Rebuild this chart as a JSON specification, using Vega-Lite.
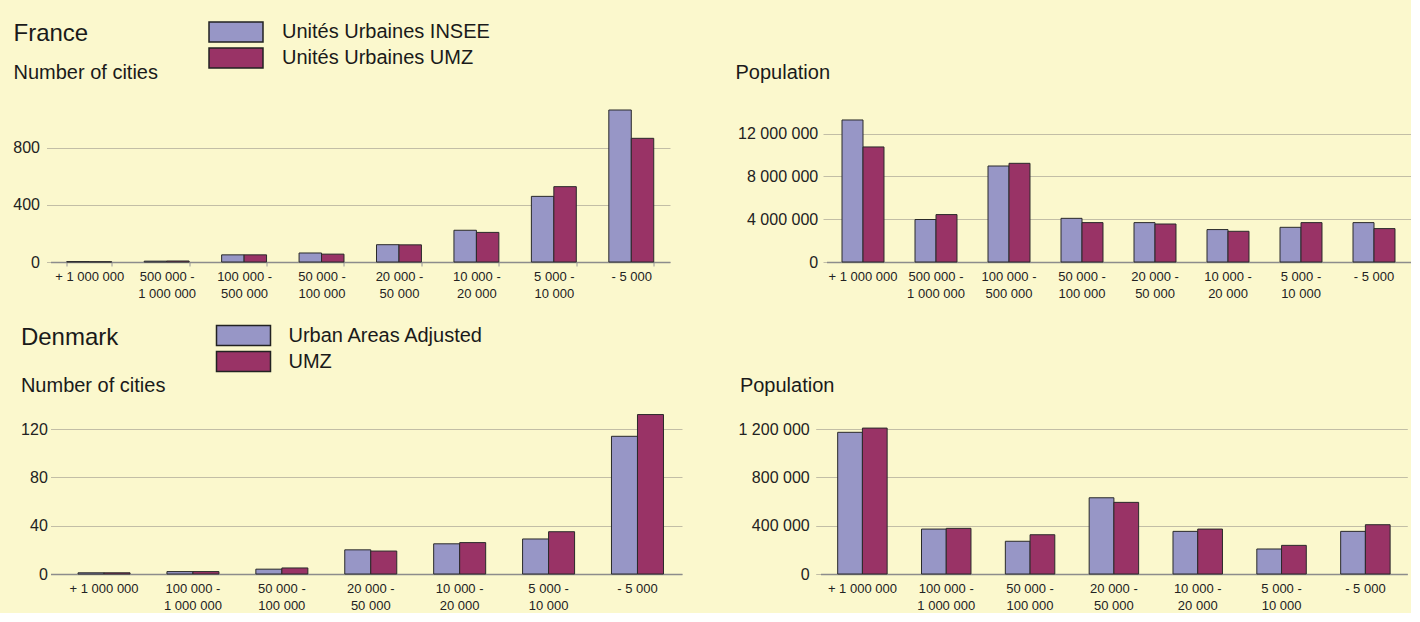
{
  "$schema": "https://vega.github.io/schema/vega-lite/v6.json",
  "background": "#FBF8CD",
  "padding": {"left": 11.5, "top": 21, "right": 0, "bottom": 0},
  "config": {
    "view": {"stroke": null},
    "font": "Liberation Sans",
    "axis": {"labelFont": "Liberation Sans", "titleFont": "Liberation Sans", "labelColor": "#222222", "titleColor": "#1a1a1a", "titleFontWeight": "normal"},
    "legend": {"labelFont": "Liberation Sans"}
  },
  "data": {
    "values": [
      {"country": "France", "measure": "cities", "class": "+ 1 000 000", "series": "Unités Urbaines INSEE", "value": 3},
      {"country": "France", "measure": "cities", "class": "+ 1 000 000", "series": "Unités Urbaines UMZ", "value": 2},
      {"country": "France", "measure": "cities", "class": "500 000 - 1 000 000", "series": "Unités Urbaines INSEE", "value": 6},
      {"country": "France", "measure": "cities", "class": "500 000 - 1 000 000", "series": "Unités Urbaines UMZ", "value": 7},
      {"country": "France", "measure": "cities", "class": "100 000 - 500 000", "series": "Unités Urbaines INSEE", "value": 50},
      {"country": "France", "measure": "cities", "class": "100 000 - 500 000", "series": "Unités Urbaines UMZ", "value": 50},
      {"country": "France", "measure": "cities", "class": "50 000 - 100 000", "series": "Unités Urbaines INSEE", "value": 63},
      {"country": "France", "measure": "cities", "class": "50 000 - 100 000", "series": "Unités Urbaines UMZ", "value": 55},
      {"country": "France", "measure": "cities", "class": "20 000 - 50 000", "series": "Unités Urbaines INSEE", "value": 121},
      {"country": "France", "measure": "cities", "class": "20 000 - 50 000", "series": "Unités Urbaines UMZ", "value": 120},
      {"country": "France", "measure": "cities", "class": "10 000 - 20 000", "series": "Unités Urbaines INSEE", "value": 222},
      {"country": "France", "measure": "cities", "class": "10 000 - 20 000", "series": "Unités Urbaines UMZ", "value": 207},
      {"country": "France", "measure": "cities", "class": "5 000 - 10 000", "series": "Unités Urbaines INSEE", "value": 459},
      {"country": "France", "measure": "cities", "class": "5 000 - 10 000", "series": "Unités Urbaines UMZ", "value": 527},
      {"country": "France", "measure": "cities", "class": "- 5 000", "series": "Unités Urbaines INSEE", "value": 1063},
      {"country": "France", "measure": "cities", "class": "- 5 000", "series": "Unités Urbaines UMZ", "value": 865},
      {"country": "France", "measure": "population", "class": "+ 1 000 000", "series": "Unités Urbaines INSEE", "value": 13270000},
      {"country": "France", "measure": "population", "class": "+ 1 000 000", "series": "Unités Urbaines UMZ", "value": 10750000},
      {"country": "France", "measure": "population", "class": "500 000 - 1 000 000", "series": "Unités Urbaines INSEE", "value": 3970000},
      {"country": "France", "measure": "population", "class": "500 000 - 1 000 000", "series": "Unités Urbaines UMZ", "value": 4430000},
      {"country": "France", "measure": "population", "class": "100 000 - 500 000", "series": "Unités Urbaines INSEE", "value": 8970000},
      {"country": "France", "measure": "population", "class": "100 000 - 500 000", "series": "Unités Urbaines UMZ", "value": 9220000},
      {"country": "France", "measure": "population", "class": "50 000 - 100 000", "series": "Unités Urbaines INSEE", "value": 4080000},
      {"country": "France", "measure": "population", "class": "50 000 - 100 000", "series": "Unités Urbaines UMZ", "value": 3680000},
      {"country": "France", "measure": "population", "class": "20 000 - 50 000", "series": "Unités Urbaines INSEE", "value": 3680000},
      {"country": "France", "measure": "population", "class": "20 000 - 50 000", "series": "Unités Urbaines UMZ", "value": 3550000},
      {"country": "France", "measure": "population", "class": "10 000 - 20 000", "series": "Unités Urbaines INSEE", "value": 3030000},
      {"country": "France", "measure": "population", "class": "10 000 - 20 000", "series": "Unités Urbaines UMZ", "value": 2870000},
      {"country": "France", "measure": "population", "class": "5 000 - 10 000", "series": "Unités Urbaines INSEE", "value": 3240000},
      {"country": "France", "measure": "population", "class": "5 000 - 10 000", "series": "Unités Urbaines UMZ", "value": 3680000},
      {"country": "France", "measure": "population", "class": "- 5 000", "series": "Unités Urbaines INSEE", "value": 3680000},
      {"country": "France", "measure": "population", "class": "- 5 000", "series": "Unités Urbaines UMZ", "value": 3120000},
      {"country": "Denmark", "measure": "cities", "class": "+ 1 000 000", "series": "Urban Areas Adjusted", "value": 1},
      {"country": "Denmark", "measure": "cities", "class": "+ 1 000 000", "series": "UMZ", "value": 1},
      {"country": "Denmark", "measure": "cities", "class": "100 000 - 1 000 000", "series": "Urban Areas Adjusted", "value": 2},
      {"country": "Denmark", "measure": "cities", "class": "100 000 - 1 000 000", "series": "UMZ", "value": 2},
      {"country": "Denmark", "measure": "cities", "class": "50 000 - 100 000", "series": "Urban Areas Adjusted", "value": 4},
      {"country": "Denmark", "measure": "cities", "class": "50 000 - 100 000", "series": "UMZ", "value": 5},
      {"country": "Denmark", "measure": "cities", "class": "20 000 - 50 000", "series": "Urban Areas Adjusted", "value": 20},
      {"country": "Denmark", "measure": "cities", "class": "20 000 - 50 000", "series": "UMZ", "value": 19},
      {"country": "Denmark", "measure": "cities", "class": "10 000 - 20 000", "series": "Urban Areas Adjusted", "value": 25},
      {"country": "Denmark", "measure": "cities", "class": "10 000 - 20 000", "series": "UMZ", "value": 26},
      {"country": "Denmark", "measure": "cities", "class": "5 000 - 10 000", "series": "Urban Areas Adjusted", "value": 29},
      {"country": "Denmark", "measure": "cities", "class": "5 000 - 10 000", "series": "UMZ", "value": 35},
      {"country": "Denmark", "measure": "cities", "class": "- 5 000", "series": "Urban Areas Adjusted", "value": 114},
      {"country": "Denmark", "measure": "cities", "class": "- 5 000", "series": "UMZ", "value": 132},
      {"country": "Denmark", "measure": "population", "class": "+ 1 000 000", "series": "Urban Areas Adjusted", "value": 1173000},
      {"country": "Denmark", "measure": "population", "class": "+ 1 000 000", "series": "UMZ", "value": 1208000},
      {"country": "Denmark", "measure": "population", "class": "100 000 - 1 000 000", "series": "Urban Areas Adjusted", "value": 372000},
      {"country": "Denmark", "measure": "population", "class": "100 000 - 1 000 000", "series": "UMZ", "value": 378000},
      {"country": "Denmark", "measure": "population", "class": "50 000 - 100 000", "series": "Urban Areas Adjusted", "value": 271000},
      {"country": "Denmark", "measure": "population", "class": "50 000 - 100 000", "series": "UMZ", "value": 325000},
      {"country": "Denmark", "measure": "population", "class": "20 000 - 50 000", "series": "Urban Areas Adjusted", "value": 631000},
      {"country": "Denmark", "measure": "population", "class": "20 000 - 50 000", "series": "UMZ", "value": 593000},
      {"country": "Denmark", "measure": "population", "class": "10 000 - 20 000", "series": "Urban Areas Adjusted", "value": 353000},
      {"country": "Denmark", "measure": "population", "class": "10 000 - 20 000", "series": "UMZ", "value": 372000},
      {"country": "Denmark", "measure": "population", "class": "5 000 - 10 000", "series": "Urban Areas Adjusted", "value": 207000},
      {"country": "Denmark", "measure": "population", "class": "5 000 - 10 000", "series": "UMZ", "value": 237000},
      {"country": "Denmark", "measure": "population", "class": "- 5 000", "series": "Urban Areas Adjusted", "value": 353000},
      {"country": "Denmark", "measure": "population", "class": "- 5 000", "series": "UMZ", "value": 408000}
    ]
  },
  "columns": 1,
  "align": "none",
  "spacing": 23,
  "resolve": {"scale": {"color": "independent", "x": "independent", "y": "independent", "xOffset": "independent"}, "legend": {"color": "independent"}},
  "concat": [
    {
      "spacing": 64,
      "resolve": {"scale": {"color": "independent", "x": "independent", "y": "independent", "xOffset": "independent"}, "legend": {"color": "independent"}},
      "hconcat": [
        {
          "width": 619.5,
          "height": 160,
          "transform": [{"filter": "datum.country == 'France' && datum.measure == 'cities'"}],
          "mark": {"type": "bar", "stroke": "#2a2a2a", "strokeWidth": 1},
          "encoding": {
            "x": {
              "field": "class", "type": "nominal",
              "sort": ["+ 1 000 000", "500 000 - 1 000 000", "100 000 - 500 000", "50 000 - 100 000", "20 000 - 50 000", "10 000 - 20 000", "5 000 - 10 000", "- 5 000"],
              "scale": {"paddingInner": 0.42, "paddingOuter": 0.21},
              "axis": {
                "labelAngle": 0, "labelFontSize": 13, "labelLineHeight": 17.5, "labelPadding": 4,
                "labelExpr": "indexof(datum.label, ' - ') > 0 ? [substring(datum.label, 0, indexof(datum.label, ' - ')) + ' -', substring(datum.label, indexof(datum.label, ' - ') + 3)] : datum.label",
                "domainColor": "#8c8c8c", "domainWidth": 1.5, "ticks": true, "tickBand": "extent", "tickSize": 4, "tickColor": "#9a9a9a",
                "grid": false,
                "title": "France", "titleFontSize": 24, "titleAngle": 0, "titleAlign": "left", "titleBaseline": "alphabetic", "titleX": -37.5, "titleY": -222
              }
            },
            "xOffset": {"field": "series", "type": "nominal", "sort": ["Unités Urbaines INSEE", "Unités Urbaines UMZ"]},
            "y": {
              "field": "value", "type": "quantitative",
              "scale": {"domain": [0, 1119], "nice": false},
              "axis": {
                "values": [0, 400, 800], "labelExpr": "replace(format(datum.value, ','), regexp(',', 'g'), ' ')", "labelFontSize": 16, "labelPadding": 7,
                "domain": false, "ticks": true, "tickSize": 4, "tickColor": "#c2bea6", "grid": true, "gridColor": "#c2bea6", "gridWidth": 1,
                "minExtent": 38.5, "maxExtent": 38.5,
                "title": "Number of cities", "titleFontSize": 20, "titleAngle": 0, "titleAlign": "left", "titleBaseline": "alphabetic", "titleX": -37.5, "titleY": -24
              }
            },
            "color": {
              "field": "series", "type": "nominal",
              "scale": {"domain": ["Unités Urbaines INSEE", "Unités Urbaines UMZ"], "range": ["#9796C6", "#993366"]},
              "legend": {
                "orient": "none", "legendX": 174.5, "legendY": -81, "title": null, "padding": 0, "offset": 0,
                "symbolType": "M-2.7,-1H2.7V1H-2.7Z", "symbolSize": 400, "symbolStrokeColor": "#222222", "symbolStrokeWidth": 1.5, "symbolOpacity": 1,
                "labelFontSize": 20, "labelColor": "#1a1a1a", "labelOffset": 35, "labelLimit": 0, "rowPadding": 0
              }
            }
          }
        },
        {
          "width": 584,
          "height": 160,
          "transform": [{"filter": "datum.country == 'France' && datum.measure == 'population'"}],
          "mark": {"type": "bar", "stroke": "#2a2a2a", "strokeWidth": 1},
          "encoding": {
            "x": {
              "field": "class", "type": "nominal",
              "sort": ["+ 1 000 000", "500 000 - 1 000 000", "100 000 - 500 000", "50 000 - 100 000", "20 000 - 50 000", "10 000 - 20 000", "5 000 - 10 000", "- 5 000"],
              "scale": {"paddingInner": 0.425, "paddingOuter": 0.2125},
              "axis": {
                "labelAngle": 0, "labelFontSize": 13, "labelLineHeight": 17.5, "labelPadding": 8,
                "labelExpr": "indexof(datum.label, ' - ') > 0 ? [substring(datum.label, 0, indexof(datum.label, ' - ')) + ' -', substring(datum.label, indexof(datum.label, ' - ') + 3)] : datum.label",
                "domainColor": "#8c8c8c", "domainWidth": 1.5, "ticks": false, "grid": false,
                "title": " ", "titleFontSize": 24, "titleAngle": 0, "titleAlign": "left", "titleBaseline": "alphabetic", "titleX": -91.5, "titleY": -222
              }
            },
            "xOffset": {"field": "series", "type": "nominal", "sort": ["Unités Urbaines INSEE", "Unités Urbaines UMZ"]},
            "y": {
              "field": "value", "type": "quantitative",
              "scale": {"domain": [0, 14950000], "nice": false},
              "axis": {
                "values": [0, 4000000, 8000000, 12000000], "labelExpr": "replace(format(datum.value, ','), regexp(',', 'g'), ' ')", "labelFontSize": 16, "labelPadding": 5.3,
                "domain": false, "ticks": true, "tickSize": 3.5, "tickColor": "#c2bea6", "grid": true, "gridColor": "#c2bea6", "gridWidth": 1,
                "minExtent": 90.5, "maxExtent": 90.5,
                "title": "Population", "titleFontSize": 20, "titleAngle": 0, "titleAlign": "left", "titleBaseline": "alphabetic", "titleX": -91.5, "titleY": -24
              }
            },
            "color": {
              "field": "series", "type": "nominal",
              "scale": {"domain": ["Unités Urbaines INSEE", "Unités Urbaines UMZ"], "range": ["#9796C6", "#993366"]},
              "legend": null
            }
          }
        }
      ]
    },
    {
      "spacing": 55,
      "resolve": {"scale": {"color": "independent", "x": "independent", "y": "independent", "xOffset": "independent"}, "legend": {"color": "independent"}},
      "hconcat": [
        {
          "width": 631.5,
          "height": 165,
          "transform": [{"filter": "datum.country == 'Denmark' && datum.measure == 'cities'"}],
          "mark": {"type": "bar", "stroke": "#2a2a2a", "strokeWidth": 1},
          "encoding": {
            "x": {
              "field": "class", "type": "nominal",
              "sort": ["+ 1 000 000", "100 000 - 1 000 000", "50 000 - 100 000", "20 000 - 50 000", "10 000 - 20 000", "5 000 - 10 000", "- 5 000"],
              "scale": {"paddingInner": 0.415, "paddingOuter": 0.259, "align": 0.598},
              "axis": {
                "labelAngle": 0, "labelFontSize": 13, "labelLineHeight": 17.5, "labelPadding": 8,
                "labelExpr": "indexof(datum.label, ' - ') > 0 ? [substring(datum.label, 0, indexof(datum.label, ' - ')) + ' -', substring(datum.label, indexof(datum.label, ' - ') + 3)] : datum.label",
                "domainColor": "#8c8c8c", "domainWidth": 1.5, "ticks": false, "grid": false,
                "title": "Denmark", "titleFontSize": 24, "titleAngle": 0, "titleAlign": "left", "titleBaseline": "alphabetic", "titleX": -30.1, "titleY": -230
              }
            },
            "xOffset": {"field": "series", "type": "nominal", "sort": ["Urban Areas Adjusted", "UMZ"]},
            "y": {
              "field": "value", "type": "quantitative",
              "scale": {"domain": [0, 136.6], "nice": false},
              "axis": {
                "values": [0, 40, 80, 120], "labelExpr": "replace(format(datum.value, ','), regexp(',', 'g'), ' ')", "labelFontSize": 16, "labelPadding": 3.2,
                "domain": false, "ticks": false, "grid": true, "gridColor": "#c2bea6", "gridWidth": 1,
                "minExtent": 30, "maxExtent": 34,
                "title": "Number of cities", "titleFontSize": 20, "titleAngle": 0, "titleAlign": "left", "titleBaseline": "alphabetic", "titleX": -30.1, "titleY": -17.7
              }
            },
            "color": {
              "field": "series", "type": "nominal",
              "scale": {"domain": ["Urban Areas Adjusted", "UMZ"], "range": ["#9796C6", "#993366"]},
              "legend": {
                "orient": "none", "legendX": 182, "legendY": -84.5, "title": null, "padding": 0, "offset": 0,
                "symbolType": "M-2.7,-1H2.7V1H-2.7Z", "symbolSize": 400, "symbolStrokeColor": "#222222", "symbolStrokeWidth": 1.5, "symbolOpacity": 1,
                "labelFontSize": 20, "labelColor": "#1a1a1a", "labelOffset": 34, "labelLimit": 0, "rowPadding": 0
              }
            }
          }
        },
        {
          "width": 586.8,
          "height": 165,
          "transform": [{"filter": "datum.country == 'Denmark' && datum.measure == 'population'"}],
          "mark": {"type": "bar", "stroke": "#2a2a2a", "strokeWidth": 1},
          "encoding": {
            "x": {
              "field": "class", "type": "nominal",
              "sort": ["+ 1 000 000", "100 000 - 1 000 000", "50 000 - 100 000", "20 000 - 50 000", "10 000 - 20 000", "5 000 - 10 000", "- 5 000"],
              "scale": {"paddingInner": 0.41, "paddingOuter": 0.205},
              "axis": {
                "labelAngle": 0, "labelFontSize": 13, "labelLineHeight": 17.5, "labelPadding": 8,
                "labelExpr": "indexof(datum.label, ' - ') > 0 ? [substring(datum.label, 0, indexof(datum.label, ' - ')) + ' -', substring(datum.label, indexof(datum.label, ' - ') + 3)] : datum.label",
                "domainColor": "#8c8c8c", "domainWidth": 1.5, "ticks": false, "grid": false,
                "title": " ", "titleFontSize": 24, "titleAngle": 0, "titleAlign": "left", "titleBaseline": "alphabetic", "titleX": -81.5, "titleY": -230
              }
            },
            "xOffset": {"field": "series", "type": "nominal", "sort": ["Urban Areas Adjusted", "UMZ"]},
            "y": {
              "field": "value", "type": "quantitative",
              "scale": {"domain": [0, 1366000], "nice": false},
              "axis": {
                "values": [0, 400000, 800000, 1200000], "labelExpr": "replace(format(datum.value, ','), regexp(',', 'g'), ' ')", "labelFontSize": 16, "labelPadding": 6.5,
                "domain": false, "ticks": true, "tickSize": 4.8, "tickColor": "#c2bea6", "grid": true, "gridColor": "#c2bea6", "gridWidth": 1,
                "minExtent": 81.5, "maxExtent": 81.5,
                "title": "Population", "titleFontSize": 20, "titleAngle": 0, "titleAlign": "left", "titleBaseline": "alphabetic", "titleX": -81.1, "titleY": -17.7
              }
            },
            "color": {
              "field": "series", "type": "nominal",
              "scale": {"domain": ["Urban Areas Adjusted", "UMZ"], "range": ["#9796C6", "#993366"]},
              "legend": null
            }
          }
        }
      ]
    }
  ]
}
